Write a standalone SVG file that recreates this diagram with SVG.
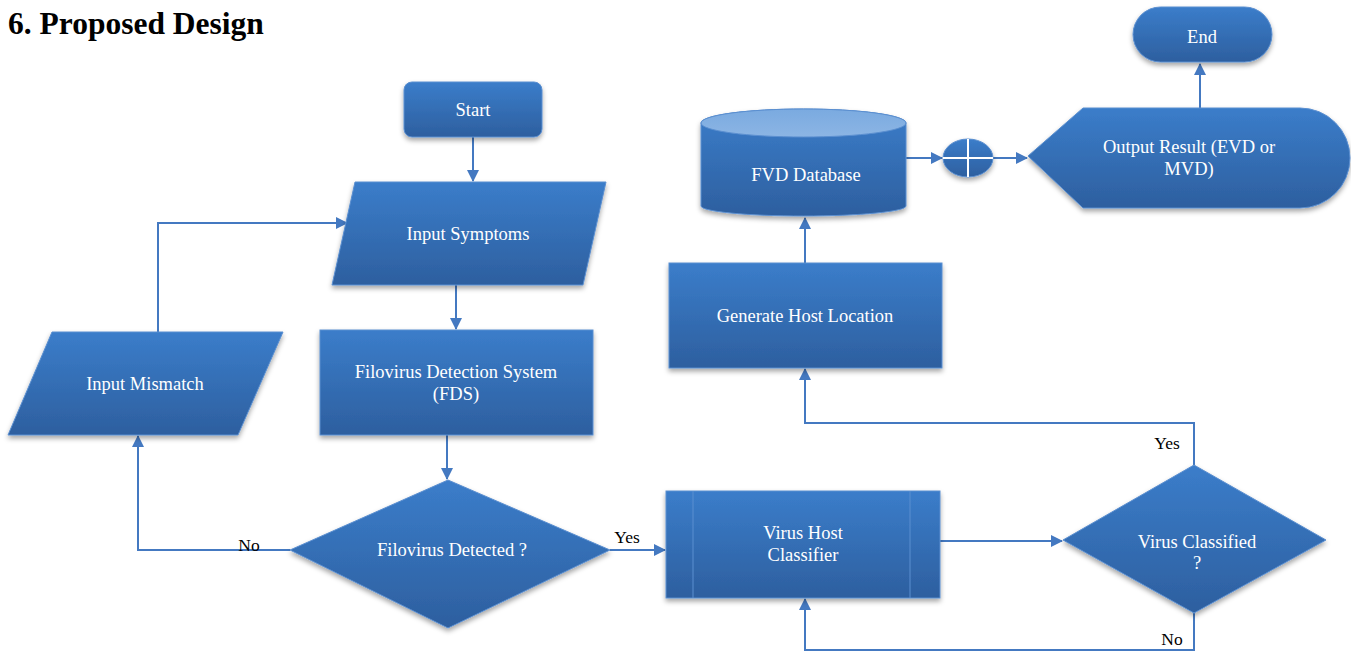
<svg xmlns="http://www.w3.org/2000/svg" width="1351" height="652" viewBox="0 0 1351 652">
<defs>
<linearGradient id="g" x1="0" y1="0" x2="0" y2="1">
<stop offset="0" stop-color="#3b7dca"/>
<stop offset="1" stop-color="#2d5f9f"/>
</linearGradient>
<linearGradient id="gtop" x1="0" y1="0" x2="0" y2="1">
<stop offset="0" stop-color="#7aaae0"/>
<stop offset="1" stop-color="#8cb5e4"/>
</linearGradient>
<filter id="sh" x="-10%" y="-10%" width="120%" height="130%">
<feDropShadow dx="0" dy="3" stdDeviation="2.5" flood-color="#000" flood-opacity="0.35"/>
</filter>
<marker id="ah" viewBox="0 0 12 12" refX="11" refY="6" markerWidth="12" markerHeight="12" markerUnits="userSpaceOnUse" orient="auto">
<path d="M0,0 L12,6 L0,12 z" fill="#4479c1"/>
</marker>
<style>
.n{fill:url(#g);stroke:#5b8fd0;stroke-width:1;filter:url(#sh)}
.t{font-size:18.5px;fill:#fff;text-anchor:middle}
.l{font-size:17.5px;fill:#000;text-anchor:middle}
.c{fill:none;stroke:#4479c1;stroke-width:2}
</style>
</defs>
<rect width="1351" height="652" fill="#fff"/>
<g font-family="Liberation Serif, Times New Roman, serif">
<text x="8" y="34" font-size="31.5" font-weight="bold" fill="#000">6. Proposed Design</text>

<g id="connectors">
<path class="c" d="M473,137 V181" marker-end="url(#ah)"/>
<path class="c" d="M456,285 V329" marker-end="url(#ah)"/>
<path class="c" d="M447,435 V479" marker-end="url(#ah)"/>
<path class="c" d="M290,550 H138 V436" marker-end="url(#ah)"/>
<path class="c" d="M158,332 V223 H347" marker-end="url(#ah)"/>
<path class="c" d="M610,550 H665" marker-end="url(#ah)"/>
<path class="c" d="M940,541 H1062" marker-end="url(#ah)"/>
<path class="c" d="M1194,465 V423 H805 V369" marker-end="url(#ah)"/>
<path class="c" d="M1194,613 V650 H805 V599" marker-end="url(#ah)"/>
<path class="c" d="M805,263 V218" marker-end="url(#ah)"/>
<path class="c" d="M906,158 H942" marker-end="url(#ah)"/>
<path class="c" d="M993,158 H1027" marker-end="url(#ah)"/>
<path class="c" d="M1200,108 V64" marker-end="url(#ah)"/>
<text class="l" x="249" y="551">No</text>
<text class="l" x="627" y="543">Yes</text>
<text class="l" x="1167" y="449">Yes</text>
<text class="l" x="1172" y="645">No</text>
</g>

<g id="start">
<rect class="n" x="404" y="82" width="138" height="55" rx="8"/>
<text class="t" x="473" y="116">Start</text>
</g>

<g id="input-symptoms">
<path class="n" d="M355,182 H606 L583,285 H332 Z"/>
<text class="t" x="468" y="240">Input Symptoms</text>
</g>

<g id="fds">
<rect class="n" x="320" y="330" width="273" height="105"/>
<text class="t" x="456" y="378">Filovirus Detection System</text>
<text class="t" x="456" y="400">(FDS)</text>
</g>

<g id="filovirus-detected">
<path class="n" d="M448,480 L610,550 L448,628 L290,550 Z"/>
<text class="t" x="452" y="556">Filovirus Detected ?</text>
</g>

<g id="input-mismatch">
<path class="n" d="M52,332 H283 L238,435 H8 Z"/>
<text class="t" x="145" y="390">Input Mismatch</text>
</g>

<g id="virus-host-classifier">
<rect class="n" x="666" y="491" width="274" height="107"/>
<line x1="693" y1="491" x2="693" y2="598" stroke="#5b8fd0" stroke-width="1"/>
<line x1="910" y1="491" x2="910" y2="598" stroke="#5b8fd0" stroke-width="1"/>
<text class="t" x="803" y="539">Virus Host</text>
<text class="t" x="803" y="561">Classifier</text>
</g>

<g id="virus-classified">
<path class="n" d="M1194,465 L1326,540 L1194,613 L1063,540 Z"/>
<text class="t" x="1197" y="548">Virus Classified</text>
<text class="t" x="1197" y="569">?</text>
</g>

<g id="generate-host-location">
<rect class="n" x="669" y="263" width="273" height="105"/>
<text class="t" x="805" y="322">Generate Host Location</text>
</g>

<g id="fvd-database">
<path class="n" d="M701,123 V206 A102.5,10 0 0 0 906,206 V123 A102.5,14 0 0 0 701,123 Z"/>
<ellipse cx="803.5" cy="123" rx="102.5" ry="14" fill="url(#gtop)" stroke="#5b8fd0" stroke-width="1"/>
<text class="t" x="806" y="181">FVD Database</text>
</g>

<g id="summing-junction">
<ellipse class="n" cx="968" cy="158" rx="25" ry="19"/>
<line x1="943" y1="158" x2="993" y2="158" stroke="#fff" stroke-width="2"/>
<line x1="968" y1="139" x2="968" y2="177" stroke="#fff" stroke-width="2"/>
</g>

<g id="output-result">
<path class="n" d="M1028,156 L1083,108 H1300 A50,50 0 0 1 1300,208 H1083 Z"/>
<text class="t" x="1189" y="153">Output Result (EVD or</text>
<text class="t" x="1189" y="175">MVD)</text>
</g>

<g id="end">
<rect class="n" x="1133" y="7" width="139" height="55" rx="27.5"/>
<text class="t" x="1202" y="43">End</text>
</g>
</g>
</svg>
